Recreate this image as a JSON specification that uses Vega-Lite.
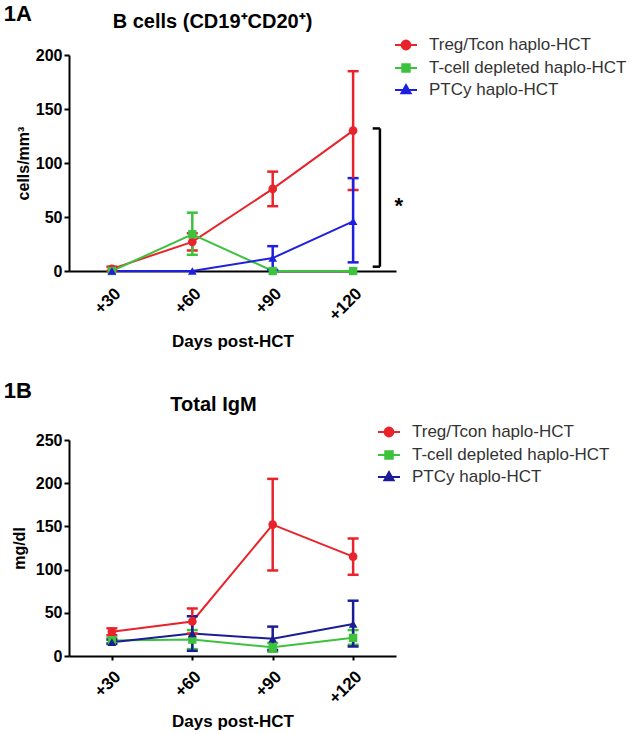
{
  "$schema": "https://vega.github.io/schema/vega-lite/v6.json",
  "padding": {"left": 3, "top": 2, "right": 0, "bottom": 0},
  "background": "white",
  "datasets": {
    "bcells": [
      {"group": "Treg/Tcon haplo-HCT", "day": 30, "mean": 2, "lo": 0, "hi": 4},
      {"group": "Treg/Tcon haplo-HCT", "day": 60, "mean": 27, "lo": 19, "hi": 35},
      {"group": "Treg/Tcon haplo-HCT", "day": 90, "mean": 76, "lo": 60, "hi": 92},
      {"group": "Treg/Tcon haplo-HCT", "day": 120, "mean": 130, "lo": 75, "hi": 185},
      {"group": "T-cell depleted haplo-HCT", "day": 30, "mean": 0, "lo": null, "hi": null},
      {"group": "T-cell depleted haplo-HCT", "day": 60, "mean": 34, "lo": 15, "hi": 54},
      {"group": "T-cell depleted haplo-HCT", "day": 90, "mean": 0, "lo": null, "hi": null},
      {"group": "T-cell depleted haplo-HCT", "day": 120, "mean": 0, "lo": null, "hi": null},
      {"group": "PTCy haplo-HCT", "day": 30, "mean": 0, "lo": null, "hi": null},
      {"group": "PTCy haplo-HCT", "day": 60, "mean": 0, "lo": null, "hi": null},
      {"group": "PTCy haplo-HCT", "day": 90, "mean": 12, "lo": 1, "hi": 23},
      {"group": "PTCy haplo-HCT", "day": 120, "mean": 46, "lo": 8, "hi": 86}
    ],
    "igm": [
      {"group": "Treg/Tcon haplo-HCT", "day": 30, "mean": 28, "lo": 24, "hi": 32},
      {"group": "Treg/Tcon haplo-HCT", "day": 60, "mean": 40, "lo": 26, "hi": 55},
      {"group": "Treg/Tcon haplo-HCT", "day": 90, "mean": 152, "lo": 99, "hi": 205},
      {"group": "Treg/Tcon haplo-HCT", "day": 120, "mean": 115, "lo": 94, "hi": 136},
      {"group": "T-cell depleted haplo-HCT", "day": 30, "mean": 18, "lo": 15, "hi": 21},
      {"group": "T-cell depleted haplo-HCT", "day": 60, "mean": 19, "lo": 8, "hi": 30},
      {"group": "T-cell depleted haplo-HCT", "day": 90, "mean": 10, "lo": 5, "hi": 15},
      {"group": "T-cell depleted haplo-HCT", "day": 120, "mean": 21, "lo": 13, "hi": 30},
      {"group": "PTCy haplo-HCT", "day": 30, "mean": 16, "lo": 14, "hi": 19},
      {"group": "PTCy haplo-HCT", "day": 60, "mean": 26, "lo": 6, "hi": 46},
      {"group": "PTCy haplo-HCT", "day": 90, "mean": 20, "lo": 7, "hi": 34},
      {"group": "PTCy haplo-HCT", "day": 120, "mean": 37, "lo": 11, "hi": 64}
    ],
    "sig": [{"low": 4, "high": 132, "mark": "*", "ypos": 54}],
    "panelA": [{"label": "1A"}],
    "panelB": [{"label": "1B"}]
  },
  "config": {
    "view": {"stroke": null},
    "font": "Liberation Sans",
    "axis": {
      "grid": false,
      "domainColor": "black",
      "domainWidth": 2,
      "tickColor": "black",
      "tickWidth": 2,
      "tickSize": 5,
      "labelFont": "Liberation Sans",
      "labelFontWeight": "bold",
      "labelFontSize": 16,
      "labelColor": "black",
      "titleFont": "Liberation Sans",
      "titleFontWeight": "bold",
      "titleFontSize": 17,
      "titleColor": "black"
    },
    "legend": {
      "labelFont": "Liberation Sans",
      "labelFontSize": 17,
      "labelColor": "#333333",
      "labelLimit": 400,
      "padding": 0,
      "labelOffset": 11,
      "rowPadding": 2,
      "symbolStrokeWidth": 2
    },
    "title": {"font": "Liberation Sans", "fontWeight": "bold", "fontSize": 20, "color": "black"}
  },
  "spacing": 30,
  "resolve": {
    "scale": {"color": "independent", "fill": "independent", "stroke": "independent", "shape": "independent", "x": "independent", "y": "independent"},
    "legend": {"color": "independent", "fill": "independent", "stroke": "independent", "shape": "independent"}
  },
  "vconcat": [
    {
      "width": 327,
      "height": 216,
      "title": {"text": "B cells (CD19⁺CD20⁺)", "dx": -20, "offset": -29},
      "layer": [
        {
          "data": {"name": "bcells"},
          "mark": {"type": "line", "strokeWidth": 2},
          "encoding": {
            "x": {"field": "day", "type": "quantitative", "scale": {"domain": [14, 136], "nice": false},
                  "axis": {"values": [30, 60, 90, 120], "labelExpr": "'+' + datum.value", "labelAngle": -45, "labelFontSize": 17, "ticks": false, "labelPadding": 14, "title": "Days post-HCT", "titlePadding": 10}},
            "y": {"field": "mean", "type": "quantitative", "scale": {"domain": [0, 200], "nice": false},
                  "axis": {"values": [0, 50, 100, 150, 200], "title": "cells/mm³", "titleFontSize": 16, "titlePadding": 4}},
            "color": {"field": "group", "type": "nominal", "legend": null,
                      "scale": {"range": ["#1f1fe0", "#3cc23c", "#e8232b"]}}
          }
        },
        {
          "data": {"name": "bcells"},
          "transform": [{"filter": "isValid(datum.lo)"}],
          "mark": {"type": "errorbar", "opacity": 1, "ticks": {"size": 11, "thickness": 2.5, "opacity": 1}, "rule": {"strokeWidth": 2.5, "opacity": 1}},
          "encoding": {
            "x": {"field": "day", "type": "quantitative"},
            "y": {"field": "lo", "type": "quantitative", "title": "cells/mm³"},
            "y2": {"field": "hi"},
            "color": {"field": "group", "type": "nominal", "legend": null}
          }
        },
        {
          "data": {"name": "bcells"},
          "transform": [{"filter": "datum.group == 'Treg/Tcon haplo-HCT'"}],
          "mark": {"type": "point", "shape": "circle", "filled": true, "size": 75, "opacity": 1},
          "encoding": {
            "x": {"field": "day", "type": "quantitative"},
            "y": {"field": "mean", "type": "quantitative"},
            "color": {"field": "group", "type": "nominal", "legend": null}
          }
        },
        {
          "data": {"name": "bcells"},
          "transform": [{"filter": "datum.group == 'T-cell depleted haplo-HCT'"}],
          "mark": {"type": "point", "shape": "square", "filled": true, "size": 70, "opacity": 1},
          "encoding": {
            "x": {"field": "day", "type": "quantitative"},
            "y": {"field": "mean", "type": "quantitative"},
            "color": {"field": "group", "type": "nominal", "legend": null}
          }
        },
        {
          "data": {"name": "bcells"},
          "transform": [{"filter": "datum.group == 'PTCy haplo-HCT'"}],
          "mark": {"type": "point", "shape": "triangle-up", "filled": true, "size": 75, "opacity": 1},
          "encoding": {
            "x": {"field": "day", "type": "quantitative"},
            "y": {"field": "mean", "type": "quantitative"},
            "color": {"field": "group", "type": "nominal", "legend": null}
          }
        },
        {
          "data": {"name": "bcells"},
          "mark": {"type": "point", "filled": true, "strokeWidth": 2, "opacity": 0, "size": 10},
          "encoding": {
            "x": {"field": "day", "type": "quantitative"},
            "y": {"field": "mean", "type": "quantitative"},
            "fill": {"field": "group", "type": "nominal",
                     "scale": {"domain": ["Treg/Tcon haplo-HCT", "T-cell depleted haplo-HCT", "PTCy haplo-HCT"], "range": ["#e8232b", "#3cc23c", "#1f1fe0"]},
                     "legend": {"title": null, "orient": "none", "legendX": 325, "legendY": -22, "symbolSize": 484, "symbolOpacity": 1}},
            "stroke": {"field": "group", "type": "nominal",
                       "scale": {"domain": ["Treg/Tcon haplo-HCT", "T-cell depleted haplo-HCT", "PTCy haplo-HCT"], "range": ["#e8232b", "#3cc23c", "#1f1fe0"]},
                       "legend": {"title": null, "orient": "none", "legendX": 325, "legendY": -22, "symbolSize": 484, "symbolOpacity": 1}},
            "shape": {"field": "group", "type": "nominal",
                      "scale": {"domain": ["Treg/Tcon haplo-HCT", "T-cell depleted haplo-HCT", "PTCy haplo-HCT"],
                                "range": ["M-1,0H1M0.4,0A0.4,0.4,0,1,0,-0.4,0A0.4,0.4,0,1,0,0.4,0Z", "M-1,0H1M-0.34,-0.34H0.34V0.34H-0.34Z", "M-1,0H1M0,-0.45L0.42,0.3H-0.42Z"]},
                      "legend": {"title": null, "orient": "none", "legendX": 325, "legendY": -22, "symbolSize": 484, "symbolOpacity": 1}}
          }
        },
        {
          "data": {"name": "sig"},
          "mark": {"type": "rule", "strokeWidth": 2.5, "color": "black"},
          "encoding": {
            "x": {"datum": 130, "type": "quantitative"},
            "y": {"field": "low", "type": "quantitative"},
            "y2": {"field": "high"}
          }
        },
        {
          "data": {"name": "sig"},
          "mark": {"type": "rule", "strokeWidth": 2.5, "color": "black"},
          "encoding": {
            "x": {"datum": 127.3, "type": "quantitative"},
            "x2": {"datum": 130},
            "y": {"field": "low", "type": "quantitative"}
          }
        },
        {
          "data": {"name": "sig"},
          "mark": {"type": "rule", "strokeWidth": 2.5, "color": "black"},
          "encoding": {
            "x": {"datum": 127.3, "type": "quantitative"},
            "x2": {"datum": 130},
            "y": {"field": "high", "type": "quantitative"}
          }
        },
        {
          "data": {"name": "sig"},
          "mark": {"type": "text", "fontSize": 22, "fontWeight": "bold", "align": "center", "baseline": "alphabetic", "color": "black"},
          "encoding": {
            "x": {"datum": 137, "type": "quantitative"},
            "y": {"field": "ypos", "type": "quantitative"},
            "text": {"field": "mark"}
          }
        },
        {
          "data": {"name": "panelA"},
          "mark": {"type": "text", "fontSize": 22, "fontWeight": "bold", "align": "left", "baseline": "alphabetic", "color": "black"},
          "encoding": {
            "x": {"datum": -10.3, "type": "quantitative"},
            "y": {"datum": 231.5, "type": "quantitative"},
            "text": {"field": "label"}
          }
        }
      ]
    },
    {
      "width": 327,
      "height": 216,
      "title": {"text": "Total IgM", "dx": -19, "offset": -35},
      "layer": [
        {
          "data": {"name": "igm"},
          "mark": {"type": "line", "strokeWidth": 2},
          "encoding": {
            "x": {"field": "day", "type": "quantitative", "scale": {"domain": [14, 136], "nice": false},
                  "axis": {"values": [30, 60, 90, 120], "labelExpr": "'+' + datum.value", "labelAngle": -45, "labelFontSize": 17, "ticks": true, "tickSize": 4, "labelPadding": 8, "title": "Days post-HCT", "titlePadding": 7}},
            "y": {"field": "mean", "type": "quantitative", "scale": {"domain": [0, 250], "nice": false},
                  "axis": {"values": [0, 50, 100, 150, 200, 250], "title": "mg/dl", "titleFontSize": 16, "titlePadding": 8}},
            "color": {"field": "group", "type": "nominal", "legend": null,
                      "scale": {"range": ["#1c1c94", "#3cc23c", "#e8232b"]}}
          }
        },
        {
          "data": {"name": "igm"},
          "transform": [{"filter": "isValid(datum.lo)"}],
          "mark": {"type": "errorbar", "opacity": 1, "ticks": {"size": 11, "thickness": 2.5, "opacity": 1}, "rule": {"strokeWidth": 2.5, "opacity": 1}},
          "encoding": {
            "x": {"field": "day", "type": "quantitative"},
            "y": {"field": "lo", "type": "quantitative", "title": "mg/dl"},
            "y2": {"field": "hi"},
            "color": {"field": "group", "type": "nominal", "legend": null}
          }
        },
        {
          "data": {"name": "igm"},
          "transform": [{"filter": "datum.group == 'Treg/Tcon haplo-HCT'"}],
          "mark": {"type": "point", "shape": "circle", "filled": true, "size": 75, "opacity": 1},
          "encoding": {
            "x": {"field": "day", "type": "quantitative"},
            "y": {"field": "mean", "type": "quantitative"},
            "color": {"field": "group", "type": "nominal", "legend": null}
          }
        },
        {
          "data": {"name": "igm"},
          "transform": [{"filter": "datum.group == 'T-cell depleted haplo-HCT'"}],
          "mark": {"type": "point", "shape": "square", "filled": true, "size": 70, "opacity": 1},
          "encoding": {
            "x": {"field": "day", "type": "quantitative"},
            "y": {"field": "mean", "type": "quantitative"},
            "color": {"field": "group", "type": "nominal", "legend": null}
          }
        },
        {
          "data": {"name": "igm"},
          "transform": [{"filter": "datum.group == 'PTCy haplo-HCT'"}],
          "mark": {"type": "point", "shape": "triangle-up", "filled": true, "size": 75, "opacity": 1},
          "encoding": {
            "x": {"field": "day", "type": "quantitative"},
            "y": {"field": "mean", "type": "quantitative"},
            "color": {"field": "group", "type": "nominal", "legend": null}
          }
        },
        {
          "data": {"name": "igm"},
          "mark": {"type": "point", "filled": true, "strokeWidth": 2, "opacity": 0, "size": 10},
          "encoding": {
            "x": {"field": "day", "type": "quantitative"},
            "y": {"field": "mean", "type": "quantitative"},
            "fill": {"field": "group", "type": "nominal",
                     "scale": {"domain": ["Treg/Tcon haplo-HCT", "T-cell depleted haplo-HCT", "PTCy haplo-HCT"], "range": ["#e8232b", "#3cc23c", "#1c1c94"]},
                     "legend": {"title": null, "orient": "none", "legendX": 308, "legendY": -20, "symbolSize": 484, "symbolOpacity": 1}},
            "stroke": {"field": "group", "type": "nominal",
                       "scale": {"domain": ["Treg/Tcon haplo-HCT", "T-cell depleted haplo-HCT", "PTCy haplo-HCT"], "range": ["#e8232b", "#3cc23c", "#1c1c94"]},
                       "legend": {"title": null, "orient": "none", "legendX": 308, "legendY": -20, "symbolSize": 484, "symbolOpacity": 1}},
            "shape": {"field": "group", "type": "nominal",
                      "scale": {"domain": ["Treg/Tcon haplo-HCT", "T-cell depleted haplo-HCT", "PTCy haplo-HCT"],
                                "range": ["M-1,0H1M0.4,0A0.4,0.4,0,1,0,-0.4,0A0.4,0.4,0,1,0,0.4,0Z", "M-1,0H1M-0.34,-0.34H0.34V0.34H-0.34Z", "M-1,0H1M0,-0.45L0.42,0.3H-0.42Z"]},
                      "legend": {"title": null, "orient": "none", "legendX": 308, "legendY": -20, "symbolSize": 484, "symbolOpacity": 1}}
          }
        },
        {
          "data": {"name": "panelB"},
          "mark": {"type": "text", "fontSize": 22, "fontWeight": "bold", "align": "left", "baseline": "alphabetic", "color": "black"},
          "encoding": {
            "x": {"datum": -10.3, "type": "quantitative"},
            "y": {"datum": 298.6, "type": "quantitative"},
            "text": {"field": "label"}
          }
        }
      ]
    }
  ]
}
